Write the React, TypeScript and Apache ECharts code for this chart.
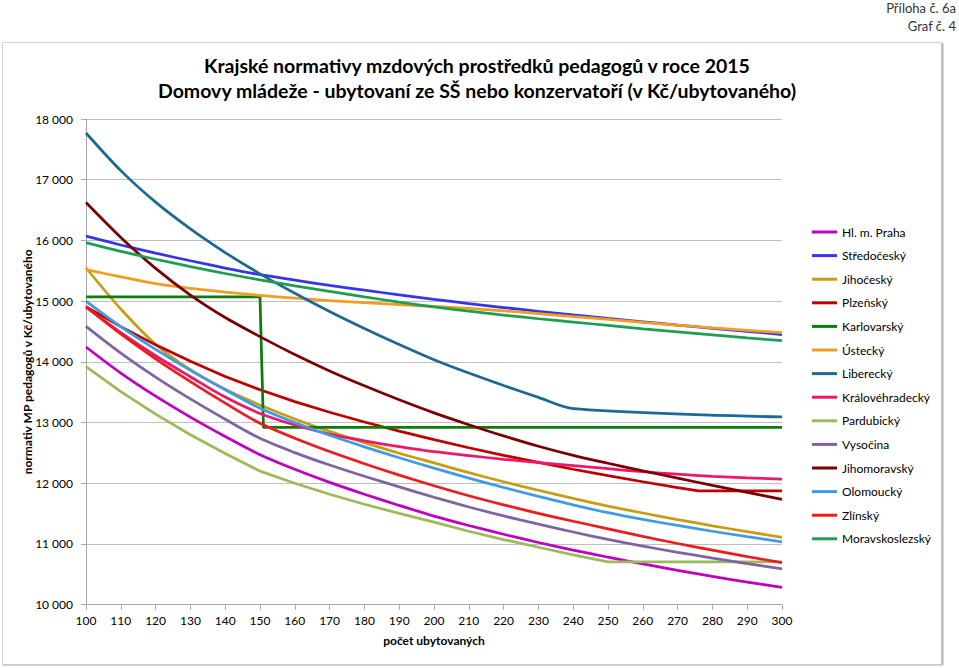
import React, { useEffect, useRef } from "react";
import * as echarts from "echarts";

// počet ubytovaných (x)
const counts = [100, 110, 120, 130, 140, 150, 160, 170, 180, 190, 200, 210, 220, 230, 240, 250, 260, 270, 280, 290, 300];

// values (Kč / ubytovaného)
const praha = [14245, 13815, 13435, 13090, 12770, 12470, 12230, 12015, 11820, 11635, 11460, 11305, 11160, 11025, 10900, 10782, 10672, 10567, 10467, 10372, 10285];
const stredocesky = [16070, 15925, 15790, 15665, 15545, 15435, 15345, 15260, 15180, 15105, 15030, 14960, 14895, 14832, 14772, 14715, 14660, 14605, 14553, 14502, 14450];
const jihocesky = [15550, 14870, 14290, 13870, 13550, 13290, 13060, 12855, 12670, 12495, 12335, 12175, 12025, 11885, 11750, 11625, 11510, 11402, 11300, 11203, 11110];
const plzenskyX = [100, 110, 120, 130, 140, 150, 160, 170, 180, 190, 200, 210, 220, 230, 240, 250, 260, 270, 276, 280, 290, 300];
const plzensky = [14910, 14580, 14280, 14010, 13760, 13540, 13345, 13170, 13010, 12860, 12720, 12585, 12460, 12343, 12231, 12125, 12025, 11930, 11876, 11876, 11876, 11876];
const karlovarskyX = [100, 150, 151, 300];
const karlovarsky = [15070, 15070, 12920, 12920];
const ustecky = [15520, 15400, 15290, 15210, 15150, 15095, 15050, 15010, 14975, 14942, 14912, 14880, 14840, 14795, 14745, 14700, 14650, 14605, 14560, 14520, 14480];
const libereckyX = [100, 110, 120, 130, 140, 150, 160, 170, 180, 190, 200, 210, 220, 230, 240, 300];
const liberecky = [17770, 17150, 16630, 16190, 15800, 15450, 15130, 14830, 14550, 14285, 14035, 13815, 13610, 13415, 13230, 13092];
const kralovehradecky = [14900, 14480, 14100, 13755, 13420, 13150, 12960, 12810, 12700, 12605, 12520, 12455, 12395, 12340, 12290, 12240, 12190, 12150, 12115, 12090, 12070];
const pardubickyX = [100, 110, 120, 130, 140, 150, 160, 170, 180, 190, 200, 210, 220, 230, 240, 250, 300];
const pardubicky = [13920, 13510, 13140, 12800, 12490, 12200, 12000, 11820, 11655, 11503, 11360, 11210, 11073, 10946, 10822, 10705, 10705];
const vysocina = [14585, 14145, 13750, 13390, 13055, 12740, 12505, 12300, 12115, 11940, 11770, 11610, 11462, 11327, 11197, 11075, 10965, 10863, 10768, 10676, 10590];
const jihomoravsky = [16625, 16050, 15540, 15100, 14730, 14415, 14120, 13850, 13605, 13375, 13160, 12965, 12780, 12610, 12460, 12330, 12205, 12085, 11965, 11850, 11736];
const olomoucky = [15000, 14580, 14205, 13860, 13540, 13235, 13000, 12790, 12600, 12420, 12250, 12085, 11930, 11785, 11645, 11515, 11405, 11305, 11210, 11120, 11035];
const zlinsky = [14910, 14460, 14050, 13675, 13320, 12987, 12742, 12522, 12322, 12135, 11960, 11795, 11645, 11505, 11375, 11250, 11125, 11008, 10898, 10792, 10692];
const moravskoslezsky = [15965, 15820, 15690, 15570, 15455, 15350, 15250, 15160, 15070, 14985, 14905, 14835, 14770, 14710, 14655, 14600, 14545, 14495, 14445, 14395, 14350];

const seriesDefs = [
  { name: "Hl. m. Praha", xs: counts, ys: praha, color: "#C000C0", smooth: 0.3 },
  { name: "Středočeský", xs: counts, ys: stredocesky, color: "#3535EE", smooth: 0.3 },
  { name: "Jihočeský", xs: counts, ys: jihocesky, color: "#C99C14", smooth: 0.3 },
  { name: "Plzeňský", xs: plzenskyX, ys: plzensky, color: "#C00000", smooth: 0 },
  { name: "Karlovarský", xs: karlovarskyX, ys: karlovarsky, color: "#0B7D0B", smooth: 0 },
  { name: "Ústecký", xs: counts, ys: ustecky, color: "#F39C22", smooth: 0.3 },
  { name: "Liberecký", xs: libereckyX, ys: liberecky, color: "#1C6A94", smooth: 0.3 },
  { name: "Královéhradecký", xs: counts, ys: kralovehradecky, color: "#EC1868", smooth: 0.3 },
  { name: "Pardubický", xs: pardubickyX, ys: pardubicky, color: "#9BBB59", smooth: 0 },
  { name: "Vysočina", xs: counts, ys: vysocina, color: "#8064A2", smooth: 0.3 },
  { name: "Jihomoravský", xs: counts, ys: jihomoravsky, color: "#7B0000", smooth: 0.3 },
  { name: "Olomoucký", xs: counts, ys: olomoucky, color: "#3E9BE6", smooth: 0.3 },
  { name: "Zlínský", xs: counts, ys: zlinsky, color: "#EE1C1C", smooth: 0.3 },
  { name: "Moravskoslezský", xs: counts, ys: moravskoslezsky, color: "#1E9E50", smooth: 0.3 },
];

const FONT = 'Lato, "Noto Sans", sans-serif';

const fmtThousands = (v: number) => {
  const t = Math.floor(v / 1000);
  const r = String(Math.round(v % 1000)).padStart(3, "0");
  return t > 0 ? `${t} ${r}` : String(v);
};

export default function App() {
  const ref = useRef<HTMLDivElement>(null);
  useEffect(() => {
    document.body.style.margin = "0";
    const chart = echarts.init(ref.current!, null, { renderer: "svg" });
    const series = seriesDefs.map((s) => ({
      name: s.name,
      type: "line",
      symbol: "none",
      silent: true,
      color: s.color,
      smooth: s.smooth,
      lineStyle: { color: s.color, width: 2.75 },
      data: s.xs.map((x, i) => [x, s.ys[i]]),
    }));
    chart.setOption({
      animation: false,
      backgroundColor: "#ffffff",
      textStyle: { fontFamily: FONT },
      title: {
        text: "Krajské normativy mzdových prostředků pedagogů v roce 2015\nDomovy mládeže - ubytovaní ze SŠ nebo konzervatoří (v Kč/ubytovaného)",
        left: 472,
        top: 48,
        textAlign: "center",
        textStyle: { fontFamily: FONT, fontSize: 19.5, fontWeight: "bold", color: "#000", lineHeight: 25 },
      },
      graphic: [
        { type: "rect", shape: { x: 2.5, y: 42.5, width: 939, height: 622 }, style: { fill: "none", stroke: "#D4D4D4", lineWidth: 1 }, silent: true },
        { type: "line", shape: { x1: 942.5, y1: 43, x2: 942.5, y2: 665 }, style: { stroke: "#B8B8B8", lineWidth: 2 }, silent: true },
        { type: "line", shape: { x1: 3, y1: 665, x2: 943, y2: 665 }, style: { stroke: "#C8C8C8", lineWidth: 1.5 }, silent: true },
        { type: "text", x: 956, y: 1, style: { text: "Příloha č. 6a", fill: "#333", font: `13px ${FONT}`, textAlign: "right" } },
        { type: "text", x: 956, y: 19, style: { text: "Graf č. 4", fill: "#333", font: `13px ${FONT}`, textAlign: "right" } },
      ],
      legend: {
        orient: "vertical",
        left: 807,
        top: 221,
        itemWidth: 25,
        itemHeight: 3,
        itemGap: 11.6,
        icon: "rect",
        textStyle: { fontFamily: FONT, fontSize: 12, color: "#000" },
        data: seriesDefs.map((s) => s.name),
      },
      grid: { left: 86, top: 119, right: 177, bottom: 63.3 },
      xAxis: {
        type: "value",
        min: 100,
        max: 300,
        interval: 10,
        name: "počet ubytovaných",
        nameLocation: "middle",
        nameGap: 30,
        nameTextStyle: { fontFamily: FONT, fontSize: 12, fontWeight: "bold", color: "#000" },
        axisLine: { show: true, lineStyle: { color: "#A6A6A6" } },
        axisTick: { show: true, length: 5, lineStyle: { color: "#A6A6A6" } },
        axisLabel: { margin: 10, fontFamily: FONT, fontSize: 12, color: "#000" },
        splitLine: { show: false },
      },
      yAxis: {
        type: "value",
        min: 10000,
        max: 18000,
        interval: 1000,
        name: "normativ MP pedagogů v Kč/ubytovaného",
        nameLocation: "middle",
        nameGap: 53,
        nameMoveOverlap: false,
        nameRotate: 90,
        nameTextStyle: { fontFamily: FONT, fontSize: 12, fontWeight: "bold", color: "#000" },
        axisLine: { show: true, lineStyle: { color: "#A6A6A6" } },
        axisTick: { show: true, length: 5, lineStyle: { color: "#A6A6A6" } },
        axisLabel: { margin: 13, fontFamily: FONT, fontSize: 12, color: "#000", formatter: fmtThousands },
        splitLine: { show: true, lineStyle: { color: "#BFBFBF", width: 1 } },
      },
      series,
    });
    return () => chart.dispose();
  }, []);
  return <div ref={ref} style={{ width: 959, height: 668 }} />;
}
